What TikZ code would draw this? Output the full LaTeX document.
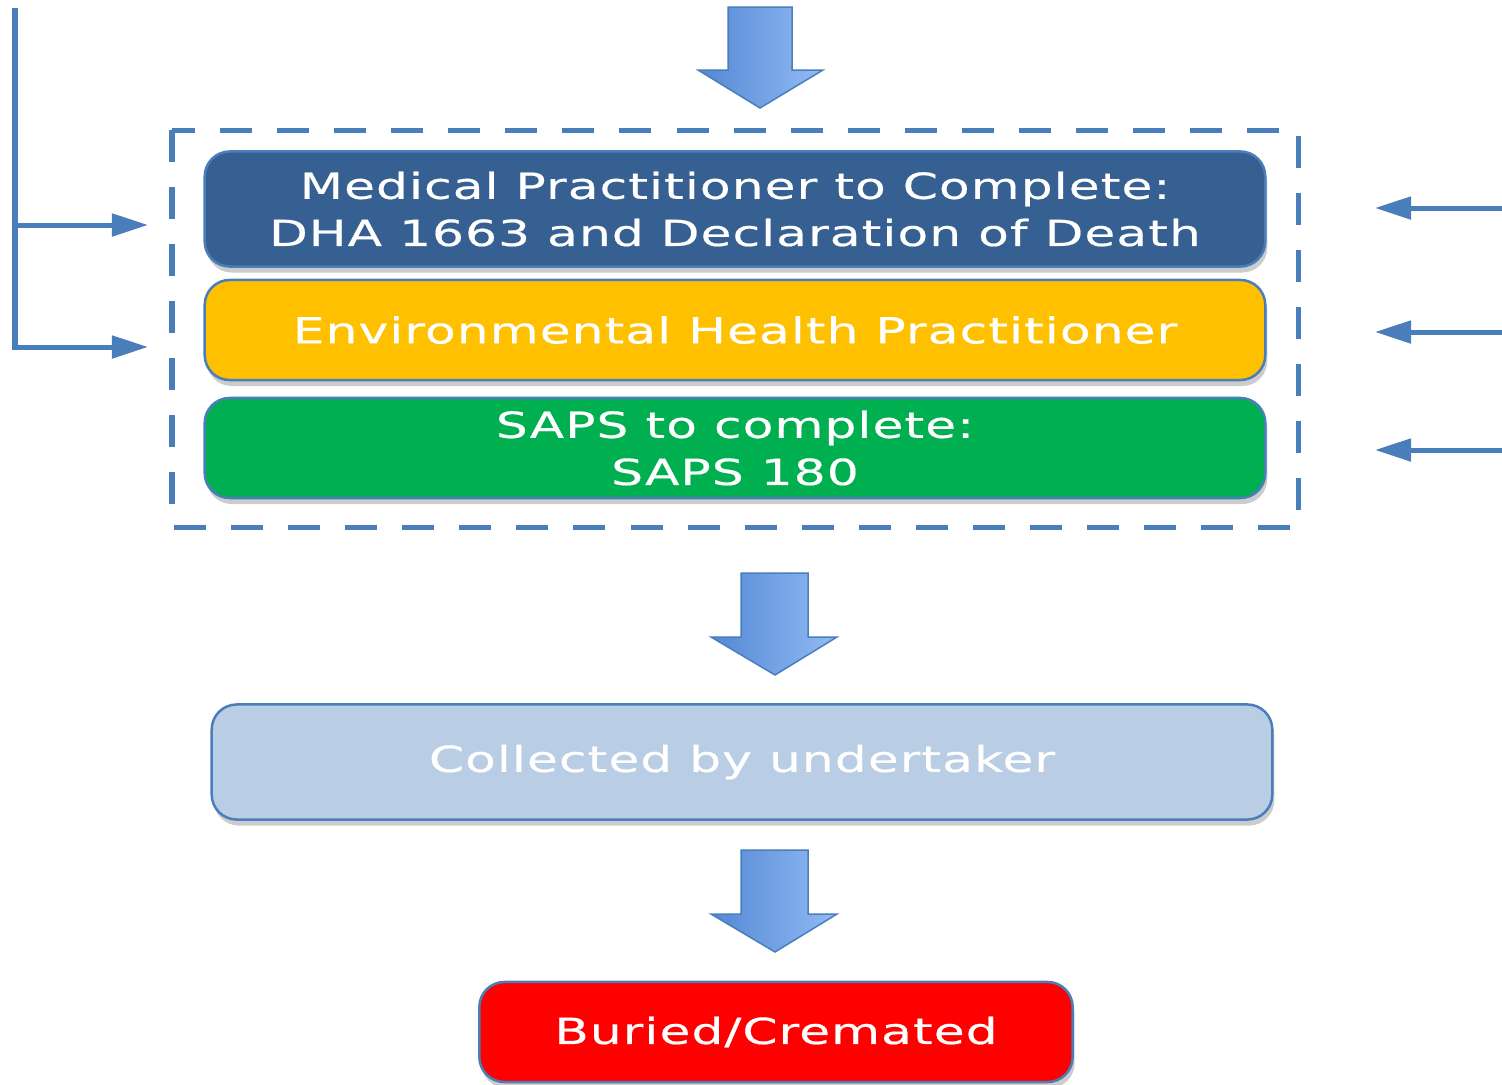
\documentclass[tikz,border=0pt]{standalone}
\usepackage{fontspec}
\newfontfamily\boxfont[FakeStretch=1.4,LetterSpace=3,FakeBold=0.5]{DejaVu Sans}
\usetikzlibrary{arrows.meta,shadows}
\definecolor{lineblue}{RGB}{74,126,187}
\definecolor{medblue}{RGB}{55,96,146}
\definecolor{ehpyellow}{RGB}{255,192,0}
\definecolor{sapsgreen}{RGB}{0,176,80}
\definecolor{pale}{RGB}{185,205,229}
\definecolor{burred}{RGB}{255,0,0}
\definecolor{arrowleft}{RGB}{84,135,212}
\definecolor{arrowright}{RGB}{146,187,244}
\tikzset{
    box/.style={draw=lineblue, line width=0.025cm, rounded corners=0.25cm,
        minimum width=10.6cm, inner sep=0pt, text=white, align=center,
        font=\boxfont\fontsize{10.2}{13.4}\selectfont,
        drop shadow={opacity=0.4, shadow xshift=0.02cm, shadow yshift=-0.06cm}},
    flow/.style={draw=lineblue, line width=0.05cm,
        -{Triangle[length=0.36cm,width=0.22cm]}},
    bigarrow/.style={left color=arrowleft, right color=arrowright,
        draw=lineblue, line width=0.015cm},
    frame/.style={draw=lineblue, line width=0.05cm, dash pattern=on 0.32cm off 0.25cm}
}
\begin{document}
\begin{tikzpicture}[x=0.01cm, y=-0.01cm]
    \useasboundingbox (0,0) rectangle (1502,1084);
    \shade[bigarrow] (728,7) -- (792,7) -- (792,70) -- (823,70) -- (760,108) -- (698,70) -- (728,70) -- cycle;
    \draw[frame] (172,130) rectangle (1298,527);
    \node[box, fill=medblue, minimum height=1.15cm] (0) at (735,209) {Medical Practitioner to Complete:\\DHA 1663 and Declaration of Death};
    \node[box, fill=ehpyellow, minimum height=1.0cm] (1) at (735,330) {Environmental Health Practitioner};
    \node[box, fill=sapsgreen, minimum height=1.0cm] (2) at (735,448) {SAPS to complete:\\SAPS 180};
    \shade[bigarrow] (741,573) -- (808,573) -- (808,637) -- (837,637) -- (775,675) -- (711,637) -- (741,637) -- cycle;
    \node[box, fill=pale, minimum height=1.15cm] (3) at (742,762) {Collected by undertaker};
    \shade[bigarrow] (741,850) -- (808,850) -- (808,914) -- (837,914) -- (775,952) -- (711,914) -- (741,914) -- cycle;
    \node[box, fill=burred, minimum width=5.93cm, minimum height=1.0cm] (4) at (776,1032) {Buried/Cremated};
    \coordinate (5) at (15,8);
    \coordinate (6) at (15,225);
    \coordinate (7) at (148,225);
    \coordinate (8) at (148,347);
    \coordinate (9) at (1502,208);
    \coordinate (10) at (1375,208);
    \coordinate (11) at (1502,332);
    \coordinate (12) at (1375,332);
    \coordinate (13) at (1502,450);
    \coordinate (14) at (1375,450);
    \draw[flow] (5) |- (8);
    \draw[flow] (6) -- (7);
    \draw[flow] (9) -- (10);
    \draw[flow] (11) -- (12);
    \draw[flow] (13) -- (14);
\end{tikzpicture}
\end{document}
